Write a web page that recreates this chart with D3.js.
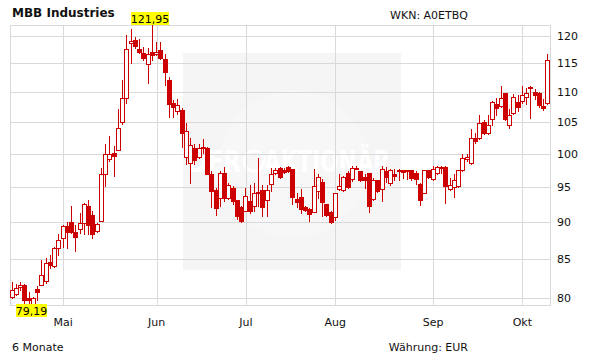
<!doctype html>
<html lang="de">
<head>
<meta charset="utf-8">
<script src="https://d3js.org/d3.v7.min.js"></script>
<style>
    body { margin: 0; background: #fff; }
    svg text { font-family: "DejaVu Sans", Verdana, sans-serif; }
</style>
</head>
<body>
<svg id="chart" width="611" height="364"></svg>
<script>
// daily candles, trading-day index 0..126
const open = [
    80.13, 80.51, 81.41, 81.67, 80.00, 79.23, 81.15, 81.71, 82.14, 84.62,
    84.10, 86.49, 87.84, 89.50, 90.00, 88.65, 89.10, 89.86, 92.24, 91.05,
    88.74, 90.10, 96.97, 99.14, 100.05, 100.63, 105.00, 109.00, 118.61, 119.22,
    117.59, 116.81, 114.83, 116.99, 116.63, 117.41, 115.78, 112.13, 108.17, 106.89,
    107.00, 99.55, 98.64, 100.94, 99.55, 101.09, 100.94, 96.97, 94.52, 93.33,
    97.12, 93.43, 94.86, 93.05, 92.10, 91.52, 92.95, 92.24, 94.29, 94.62,
    93.05, 95.45, 97.12, 97.78, 97.58, 98.03, 97.63, 93.19, 93.57, 92.10,
    91.76, 91.43, 94.48, 95.76, 92.57, 91.43, 90.67, 94.76, 94.52, 97.12,
    96.11, 97.68, 97.37, 96.46, 97.12, 93.19, 95.96, 94.71, 97.37, 95.61,
    96.87, 97.58, 97.58, 97.58, 97.58, 97.12, 95.45, 94.14, 97.47, 96.11,
    97.12, 97.98, 97.98, 94.71, 95.00, 95.10, 97.58, 99.14, 98.64, 102.50,
    102.50, 105.00, 103.28, 105.50, 108.00, 107.72, 109.83, 104.58, 106.50, 108.33,
    108.44, 109.17, 110.92, 109.94, 109.89, 107.72, 108.17
];
const high = [
    82.05, 81.79, 82.01, 81.75, 80.77, 80.21, 81.50, 84.91, 85.14, 85.59,
    86.58, 88.38, 89.64, 89.95, 92.24, 89.64, 91.29, 92.71, 93.05, 91.52,
    89.86, 97.78, 101.56, 102.76, 101.20, 107.22, 112.13, 120.12, 121.33, 119.82,
    119.34, 118.01, 117.83, 121.95, 118.80, 118.92, 116.63, 112.53, 108.72, 108.89,
    107.33, 104.79, 102.50, 101.56, 101.56, 102.24, 101.04, 97.37, 94.86, 97.37,
    97.98, 95.61, 95.10, 93.05, 92.24, 94.86, 95.35, 95.61, 99.29, 95.35,
    95.35, 97.78, 97.78, 97.98, 97.88, 98.13, 97.63, 94.14, 94.76, 92.24,
    92.00, 97.63, 96.87, 96.11, 92.57, 91.52, 94.14, 96.87, 96.62, 97.37,
    98.13, 98.13, 97.37, 96.87, 97.12, 96.36, 95.96, 98.13, 97.98, 97.63,
    97.63, 97.63, 97.58, 97.58, 97.58, 97.37, 95.61, 97.58, 97.58, 98.13,
    98.13, 98.13, 98.13, 96.26, 96.97, 97.58, 100.00, 99.90, 103.96, 103.28,
    106.22, 105.39, 106.22, 108.44, 109.00, 110.98, 109.83, 107.22, 109.67, 109.56,
    111.09, 110.69, 110.98, 110.57, 109.94, 108.83, 116.69
];
const low = [
    80.04, 80.43, 81.07, 79.23, 79.19, 79.23, 79.74, 81.62, 81.92, 83.85,
    84.02, 85.59, 86.58, 86.49, 88.51, 86.04, 88.47, 88.29, 88.38, 87.84,
    88.65, 90.10, 95.10, 98.89, 96.62, 100.63, 104.69, 108.17, 115.00, 117.71,
    116.81, 115.60, 111.55, 115.60, 116.40, 115.72, 111.26, 105.89, 105.89, 106.33,
    101.04, 98.48, 95.61, 98.48, 99.39, 100.16, 96.87, 92.10, 90.95, 92.24,
    92.95, 93.19, 92.48, 90.48, 90.00, 91.52, 91.24, 91.52, 92.24, 90.81,
    90.81, 94.48, 96.97, 96.36, 97.12, 97.27, 92.48, 92.10, 91.29, 91.52,
    90.19, 91.43, 93.43, 90.81, 90.81, 89.91, 90.33, 94.62, 94.38, 94.86,
    95.86, 97.63, 95.86, 94.86, 91.43, 93.10, 94.29, 92.95, 95.76, 95.25,
    95.96, 96.01, 96.26, 96.11, 95.96, 95.45, 92.38, 94.10, 96.36, 96.06,
    96.87, 97.12, 92.71, 94.62, 93.52, 94.95, 97.37, 98.89, 98.38, 101.72,
    102.24, 103.13, 103.13, 104.48, 106.22, 107.44, 105.28, 104.06, 106.33, 106.78,
    108.17, 108.06, 105.67, 108.89, 107.44, 107.06, 108.00
];
const close = [
    81.07, 81.28, 81.67, 79.74, 79.74, 80.09, 80.77, 82.99, 84.49, 84.19,
    86.49, 87.48, 89.41, 88.65, 88.65, 87.93, 89.86, 92.57, 89.55, 88.38,
    89.73, 96.97, 100.00, 99.90, 99.65, 104.06, 109.00, 117.53, 119.10, 118.19,
    116.93, 116.02, 116.63, 116.51, 116.99, 115.90, 113.39, 108.00, 107.50, 107.89,
    103.23, 103.54, 101.35, 99.04, 100.94, 100.83, 96.97, 94.38, 92.00, 97.12,
    93.43, 95.35, 92.95, 90.81, 90.10, 93.76, 91.52, 94.14, 94.10, 92.10,
    94.62, 96.97, 97.58, 96.46, 97.27, 97.37, 93.52, 92.86, 91.76, 91.62,
    91.14, 95.10, 96.52, 92.86, 90.95, 90.00, 94.14, 95.10, 96.46, 95.00,
    97.88, 97.88, 95.96, 96.06, 92.24, 95.96, 94.38, 97.73, 96.46, 97.53,
    96.67, 97.37, 97.27, 97.37, 96.26, 96.11, 93.10, 97.58, 96.46, 97.73,
    97.98, 97.78, 95.10, 95.35, 95.96, 97.58, 99.39, 99.49, 102.50, 101.98,
    104.84, 103.28, 104.58, 108.33, 107.33, 109.00, 105.50, 106.22, 109.17, 107.44,
    109.50, 109.83, 110.69, 109.44, 107.83, 107.33, 115.60
];

const monthIdx = [12, 34, 55, 76, 99, 120]; // first trading day of each month
const monthNames = ["Mai", "Jun", "Jul", "Aug", "Sep", "Okt"];
const yTicks = [80, 85, 90, 95, 100, 105, 110, 115, 120];

const title = "MBB Industries";
const wkn = "WKN: A0ETBQ";
const period = "6 Monate";
const currency = "Währung: EUR";

const red = "#cc0000";
const gridColor = "#d9d9d9";

const data = open.map((o, i) => ({ i: i, o: o, h: high[i], l: low[i], c: close[i] }));

const plot = { left: 10, right: 550, top: 25, bottom: 305 };

const svg = d3.select("#chart");

const x = d3.scaleBand().domain(d3.range(data.length)).range([plot.left, plot.right]);
const y = d3.scaleLog().domain([80, 120]).range([298.3, 35.7]);
const cx = i => x(i) + x.bandwidth() / 2;
const crisp = v => Math.round(v) + 0.5;

svg.append("rect").attr("width", 611).attr("height", 364).attr("fill", "#fff");

// watermark
const wm = svg.append("g");
wm.append("rect")
    .attr("x", 183).attr("y", 53).attr("width", 218).attr("height", 217)
    .attr("fill", "#f5f5f5");
wm.append("circle").attr("cx", 293).attr("cy", 164).attr("r", 74).attr("fill", "#f7f7f7");
wm.append("text")
    .attr("x", 189).attr("y", 172)
    .attr("font-size", 30).attr("font-weight", "bold").attr("fill", "#fff")
    .attr("textLength", 52).attr("lengthAdjust", "spacingAndGlyphs")
    .text("DER");
wm.append("circle").attr("cx", 254).attr("cy", 161).attr("r", 10)
    .attr("fill", "none").attr("stroke", "#fff").attr("stroke-width", 3);
wm.append("text")
    .attr("x", 264).attr("y", 172)
    .attr("font-size", 30).attr("font-weight", "bold").attr("fill", "#fff")
    .attr("textLength", 126).attr("lengthAdjust", "spacingAndGlyphs")
    .text("AKTIONÄR");

// grid
const grid = svg.append("g").attr("stroke", gridColor).attr("stroke-width", 1);
grid.selectAll("line.h").data(yTicks).join("line")
    .attr("x1", plot.left).attr("x2", plot.right)
    .attr("y1", d => crisp(y(d))).attr("y2", d => crisp(y(d)));
grid.selectAll("line.v").data(monthIdx).join("line")
    .attr("x1", d => crisp(cx(d))).attr("x2", d => crisp(cx(d)))
    .attr("y1", plot.top).attr("y2", plot.bottom);
grid.append("rect")
    .attr("x", plot.left + 0.5).attr("y", plot.top + 0.5)
    .attr("width", plot.right - plot.left).attr("height", plot.bottom - plot.top)
    .attr("fill", "none");

// candles
const candles = svg.append("g").selectAll("g").data(data).join("g");
const bodyLeft = d => Math.round(cx(d.i) - 2.5);

candles.append("line")
    .attr("x1", d => bodyLeft(d) + 2.5).attr("x2", d => bodyLeft(d) + 2.5)
    .attr("y1", d => Math.round(y(d.h))).attr("y2", d => Math.round(y(d.l)) + 1)
    .attr("stroke", red).attr("stroke-width", 1);

candles.filter(d => d.c >= d.o).append("rect")
    .attr("x", d => bodyLeft(d) + 0.5)
    .attr("y", d => Math.round(y(d.c)) + 0.5)
    .attr("width", 4)
    .attr("height", d => Math.max(1, Math.round(y(d.o)) - Math.round(y(d.c))))
    .attr("fill", "#fff").attr("stroke", red).attr("stroke-width", 1);

candles.filter(d => d.c < d.o).append("rect")
    .attr("x", d => bodyLeft(d))
    .attr("y", d => Math.round(y(d.o)))
    .attr("width", 5)
    .attr("height", d => Math.max(2, Math.round(y(d.c)) - Math.round(y(d.o)) + 1))
    .attr("fill", red);

// axes
const yAxis = svg.append("g")
    .attr("transform", `translate(${plot.right},0)`)
    .call(d3.axisRight(y).tickValues(yTicks).tickSize(0).tickPadding(7).tickFormat(d3.format("d")));
const xAxis = svg.append("g")
    .attr("transform", `translate(0,${plot.bottom})`)
    .call(d3.axisBottom(x).tickValues(monthIdx).tickSize(0).tickPadding(13)
        .tickFormat(d => monthNames[monthIdx.indexOf(d)]));
[yAxis, xAxis].forEach(a => {
    a.select(".domain").remove();
    a.selectAll("text").attr("font-family", "DejaVu Sans").attr("font-size", 11).attr("fill", "#111");
});

// high / low markers
const fmt = v => d3.format(".2f")(v).replace(".", ",");
const maxD = data.reduce((a, b) => (b.h > a.h ? b : a));
const minD = data.reduce((a, b) => (b.l < a.l ? b : a));

function marker(val, px, top, w) {
    const g = svg.append("g");
    const left = Math.max(16, Math.round(px - w / 2));
    g.append("rect").attr("x", left).attr("y", top).attr("width", w).attr("height", 13).attr("fill", "#ffff00");
    g.append("text").attr("x", left + w / 2).attr("y", top + 11)
        .attr("text-anchor", "middle").attr("font-size", 11).attr("fill", "#000")
        .text(fmt(val));
}
marker(maxD.h, cx(maxD.i) - 2, 12, 38);
marker(minD.l, cx(minD.i), 304, 31);

// texts
svg.append("text").attr("x", 12).attr("y", 17)
    .attr("font-size", 12).attr("font-weight", "bold").attr("fill", "#111").text(title);
svg.append("text").attr("x", 468).attr("y", 19).attr("text-anchor", "end")
    .attr("font-size", 11).attr("fill", "#111").text(wkn);
svg.append("text").attr("x", 12).attr("y", 351)
    .attr("font-size", 11).attr("fill", "#111").text(period);
svg.append("text").attr("x", 468).attr("y", 351).attr("text-anchor", "end")
    .attr("font-size", 11).attr("fill", "#111").text(currency);
</script>
</body>
</html>
